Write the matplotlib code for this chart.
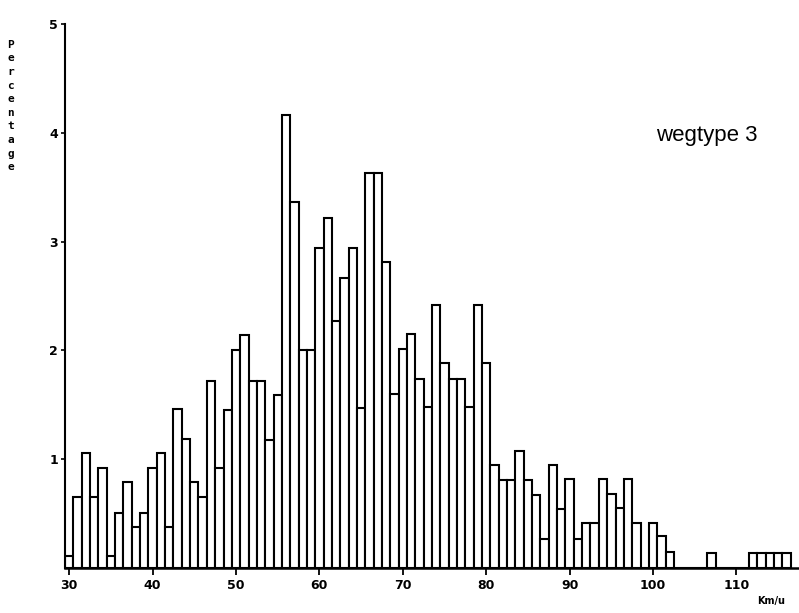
import matplotlib.pyplot as plt

# speed class (km/h) and share of vehicles (%)
speeds = list(range(30, 117))
percent = [0.11, 0.65, 1.06, 0.65, 0.92, 0.11, 0.51, 0.79, 0.38, 0.51,
           0.92, 1.06, 0.38, 1.46, 1.19, 0.79, 0.65, 1.72, 0.92, 1.45,
           2.00, 2.14, 1.72, 1.72, 1.18, 1.59, 4.16, 3.36, 2.00, 2.00,
           2.94, 3.22, 2.27, 2.67, 2.94, 1.47, 3.63, 3.63, 2.81, 1.60,
           2.01, 2.15, 1.74, 1.48, 2.42, 1.88, 1.74, 1.74, 1.48, 2.42,
           1.88, 0.95, 0.81, 0.81, 1.08, 0.81, 0.67, 0.27, 0.95, 0.54,
           0.82, 0.27, 0.41, 0.41, 0.82, 0.68, 0.55, 0.82, 0.41, 0.00,
           0.41, 0.29, 0.15, 0.00, 0.00, 0.00, 0.00, 0.14, 0.00, 0.00,
           0.00, 0.00, 0.14, 0.14, 0.14, 0.14, 0.14]
xticks = [30, 40, 50, 60, 70, 80, 90, 100, 110]
yticks = [1, 2, 3, 4, 5]

fig = plt.figure(figsize=(7.99, 6.13), dpi=100)
ax = fig.add_axes([0.0814, 0.0734, 0.9186, 0.8874])

ax.bar(speeds, percent, width=1.0, align='center', color='white',
       edgecolor='black', linewidth=1.5)

ax.set_xlim(29.5, 117.5)
ax.set_ylim(0, 5)
ax.spines['top'].set_visible(False)
ax.spines['right'].set_visible(False)
ax.spines['left'].set_linewidth(1.5)
ax.spines['bottom'].set_linewidth(1.8)

ax.set_xticks(xticks)
ax.set_xticklabels([str(t) for t in xticks], fontweight='bold', fontsize=9)
ax.set_yticks(yticks)
ax.set_yticklabels([str(t) for t in yticks], fontweight='bold', fontsize=9)
ax.tick_params(axis='x', length=5, width=1.3, pad=3)
ax.tick_params(axis='y', length=3, width=1.2, pad=2)

ax.text(0.875, 0.796, 'wegtype 3', transform=ax.transAxes, ha='center',
        va='center', fontsize=16, fontfamily='Liberation Sans')

fig.text(0.013, 0.935, '\n'.join('Percentage'), ha='center', va='top',
         fontsize=8, fontweight='bold', fontfamily='DejaVu Sans Mono',
         linespacing=1.45)
fig.text(0.965, 0.012, 'Km/u', ha='center', va='bottom', fontsize=7,
         fontweight='bold')

fig.savefig('out.png', dpi=100)
